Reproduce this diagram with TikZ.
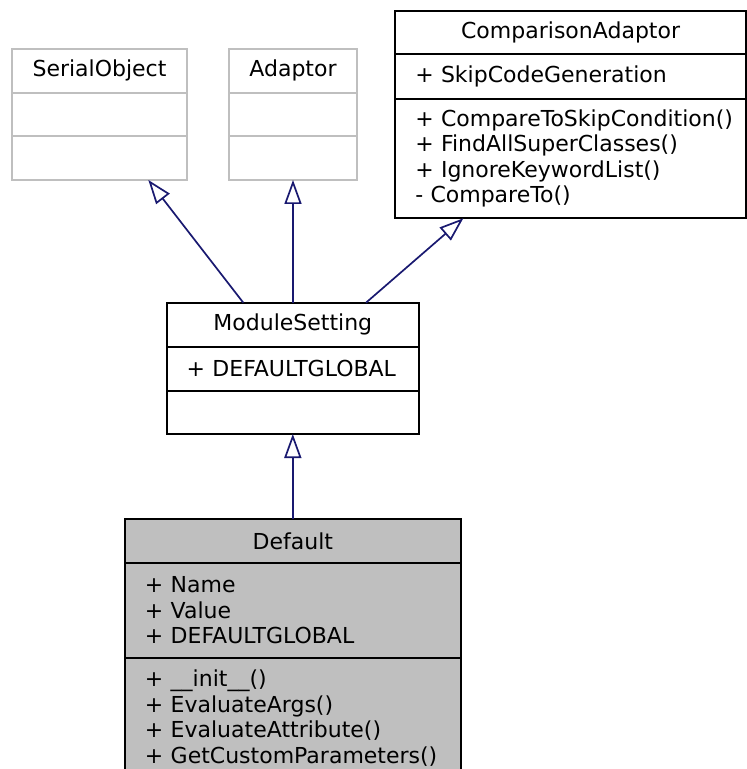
\documentclass[tikz,border=0pt]{standalone}
\usepackage{fontspec}
\setmainfont{DejaVu Sans}
\usetikzlibrary{arrows.meta, positioning}
\definecolor{edgeblue}{HTML}{191970}
\definecolor{boxgrey}{HTML}{BFBFBF}

\begin{document}
\begin{tikzpicture}[x=1pt, y=-1pt,
        every node/.style={font=\fontsize{22}{25.5}\selectfont, inner sep=0pt, outer sep=0pt},
        title/.style 2 args={draw, line width=2pt, minimum width=#1, minimum height=#2, align=center},
        members/.style 2 args={draw, line width=2pt, text width=#1, inner xsep=20pt, minimum height=#2, align=left,
            execute at begin node={\hyphenpenalty=10000\exhyphenpenalty=10000}},
        faded/.style={draw=boxgrey},
        inherit/.style={edgeblue, line width=1.7pt, -{Triangle[open, length=24pt, width=17pt]}}]
        \useasboundingbox (0,0) rectangle (747,769);

        % SerialObject (grey, no members)
        \node[title={175pt}{43.7pt}, faded] (serialname) at (99.5,70.8) {SerialObject};
        \node[members={135pt}{43.6pt}, faded, below=0pt of serialname] (serialattr) {};
        \node[members={135pt}{43.7pt}, faded, below=0pt of serialattr] (serialmeth) {};

        % Adaptor (grey, no members)
        \node[title={128pt}{43.7pt}, faded] (adaptname) at (293,70.8) {Adaptor};
        \node[members={88pt}{43.6pt}, faded, below=0pt of adaptname] (adaptattr) {};
        \node[members={88pt}{43.7pt}, faded, below=0pt of adaptattr] (adaptmeth) {};

        % ComparisonAdaptor
        \node[title={350.7pt}{43pt}] (compname) at (570.6,32.8) {ComparisonAdaptor};
        \node[members={310.7pt}{44.4pt}, below=0pt of compname] (compattr) {+ SkipCodeGeneration};
        \node[members={310.7pt}{119.6pt}, below=0pt of compattr] (compmeth)
            {+~CompareToSkipCondition()\\+ FindAllSuperClasses()\\+ IgnoreKeywordList()\\- CompareTo()};

        % ModuleSetting
        \node[title={252.3pt}{44pt}] (modname) at (292.8,324.7) {ModuleSetting};
        \node[members={212.3pt}{44pt}, below=0pt of modname] (modattr) {+ DEFAULTGLOBAL};
        \node[members={212.3pt}{43.3pt}, below=0pt of modattr] (modmeth) {};

        % Default (the class itself, filled; runs off the bottom edge)
        \node[title={335.7pt}{44pt}, fill=boxgrey] (defname) at (292.8,541.3) {Default};
        \node[members={295.7pt}{94.4pt}, fill=boxgrey, below=0pt of defname] (defattr)
            {+ Name\\+ Value\\+ DEFAULTGLOBAL};
        \node[members={295.7pt}{121pt}, fill=boxgrey, below=0pt of defattr] (defmeth)
            {+ \_\_init\_\_()\\+ EvaluateArgs()\\+ EvaluateAttribute()\\+ GetCustomParameters()};

        % Inheritance arrows
        \draw[inherit] ([xshift=-49.5pt]modname.north) -- ([xshift=48.8pt]serialmeth.south);
        \draw[inherit] (adaptmeth.south |- modname.north) -- (adaptmeth.south);
        \draw[inherit] ([xshift=73.2pt]modname.north) -- ([xshift=-107.3pt]compmeth.south);
        \draw[inherit] (defname.north) -- (modmeth.south);
    \end{tikzpicture}
\end{document}
